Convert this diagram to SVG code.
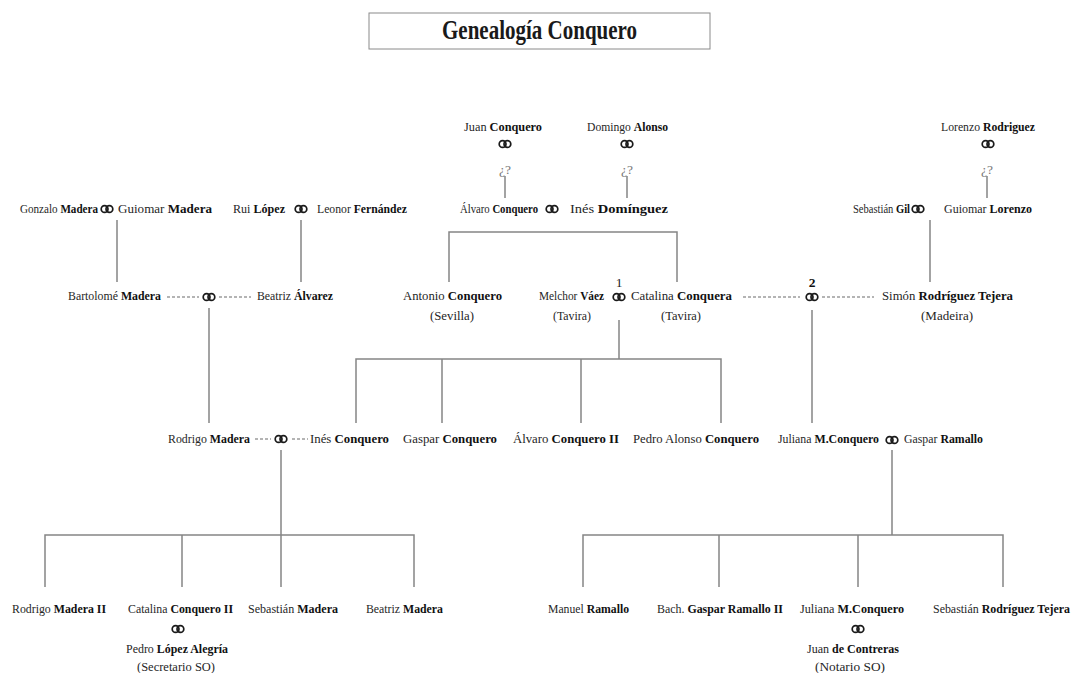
<svg xmlns="http://www.w3.org/2000/svg" xmlns:xlink="http://www.w3.org/1999/xlink" width="1074" height="673" viewBox="0 0 1074 673">
<style>
  text { font-family: "Liberation Serif", "Times New Roman", serif; font-size: 13.5px; fill: #262626; }
  .b { font-weight: bold; fill: #111; }
  .q { fill: #777; }
  .title { font-size: 28px; font-weight: bold; fill: #1a1a1a; }
  .ln { stroke: #858585; stroke-width: 1.5; fill: none; }
  .dot { stroke: #6a6a6a; stroke-width: 1.2; stroke-dasharray: 3 2; fill: none; }
  .ring { stroke: #1a1a1a; stroke-width: 1.7; fill: none; }
</style>
<defs>
  <symbol id="rings" overflow="visible">
    <circle class="ring" cx="-2.4" cy="0" r="3.4"/>
    <circle class="ring" cx="2.4" cy="0" r="3.4"/>
  </symbol>
</defs>
<rect width="1074" height="673" fill="#fff"/>

<g id="title">
  <rect x="369" y="13" width="341" height="36" fill="#fff" stroke="#8a8a8a" stroke-width="1"/>
  <text class="title" x="442" y="39" textLength="195" lengthAdjust="spacingAndGlyphs">Genealogía Conquero</text>
</g>

<g id="connectors">
  <line class="ln" x1="505" y1="176" x2="505" y2="198"/>
  <line class="ln" x1="627" y1="176" x2="627" y2="198"/>
  <line class="ln" x1="987" y1="176" x2="987" y2="198"/>
  <line class="ln" x1="117" y1="220" x2="117" y2="282"/>
  <line class="ln" x1="301" y1="220" x2="301" y2="282"/>
  <line class="ln" x1="930" y1="220" x2="930" y2="282"/>
  <polyline class="ln" points="449,282 449,232 677,232 677,282"/>
  <line class="dot" x1="167" y1="297" x2="199" y2="297"/>
  <line class="dot" x1="219" y1="297" x2="251" y2="297"/>
  <line class="dot" x1="743" y1="297" x2="800" y2="297"/>
  <line class="dot" x1="822" y1="297" x2="874" y2="297"/>
  <line class="ln" x1="209" y1="308" x2="209" y2="423"/>
  <line class="ln" x1="812" y1="310" x2="812" y2="423"/>
  <line class="ln" x1="619" y1="320" x2="619" y2="359"/>
  <polyline class="ln" points="356,423 356,359 721,359 721,423"/>
  <line class="ln" x1="442" y1="359" x2="442" y2="423"/>
  <line class="ln" x1="581" y1="359" x2="581" y2="423"/>
  <line class="dot" x1="255" y1="439" x2="271" y2="439"/>
  <line class="dot" x1="292" y1="439" x2="308" y2="439"/>
  <line class="ln" x1="281" y1="450" x2="281" y2="535"/>
  <line class="ln" x1="892" y1="450" x2="892" y2="535"/>
  <polyline class="ln" points="45,587 45,535 414,535 414,587"/>
  <line class="ln" x1="182" y1="535" x2="182" y2="587"/>
  <line class="ln" x1="281" y1="535" x2="281" y2="587"/>
  <polyline class="ln" points="583,587 583,535 1003,535 1003,587"/>
  <line class="ln" x1="719" y1="535" x2="719" y2="587"/>
  <line class="ln" x1="858" y1="535" x2="858" y2="587"/>
</g>

<g id="juan-conquero">
  <text x="464" y="131" textLength="78" lengthAdjust="spacingAndGlyphs">Juan <tspan class="b">Conquero</tspan></text>
  <use href="#rings" x="505" y="144"/>
  <text class="q" x="505" y="174" text-anchor="middle">¿?</text>
</g>
<g id="domingo-alonso">
  <text x="587" y="131" textLength="81" lengthAdjust="spacingAndGlyphs">Domingo <tspan class="b">Alonso</tspan></text>
  <use href="#rings" x="627" y="144"/>
  <text class="q" x="627" y="174" text-anchor="middle">¿?</text>
</g>
<g id="lorenzo-rodriguez">
  <text x="941" y="131" textLength="94" lengthAdjust="spacingAndGlyphs">Lorenzo <tspan class="b">Rodriguez</tspan></text>
  <use href="#rings" x="988" y="144"/>
  <text class="q" x="987" y="174" text-anchor="middle">¿?</text>
</g>

<g id="gonzalo-guiomar-madera">
  <text x="20" y="213" textLength="78" lengthAdjust="spacingAndGlyphs">Gonzalo <tspan class="b">Madera</tspan></text>
  <use href="#rings" x="107" y="209"/>
  <text x="118" y="213" textLength="94" lengthAdjust="spacingAndGlyphs">Guiomar <tspan class="b">Madera</tspan></text>
</g>
<g id="rui-lopez-leonor-fernandez">
  <text x="233" y="213" textLength="52" lengthAdjust="spacingAndGlyphs">Rui <tspan class="b">López</tspan></text>
  <use href="#rings" x="301" y="209"/>
  <text x="317" y="213" textLength="90" lengthAdjust="spacingAndGlyphs">Leonor <tspan class="b">Fernández</tspan></text>
</g>
<g id="alvaro-ines">
  <text x="460" y="213" textLength="78" lengthAdjust="spacingAndGlyphs">Álvaro <tspan class="b">Conquero</tspan></text>
  <use href="#rings" x="552" y="209"/>
  <text x="570" y="213" textLength="98" lengthAdjust="spacingAndGlyphs">Inés <tspan class="b">Domínguez</tspan></text>
</g>
<g id="sebastian-gil-guiomar-lorenzo">
  <text x="853" y="213" textLength="57" lengthAdjust="spacingAndGlyphs">Sebastián <tspan class="b">Gil</tspan></text>
  <use href="#rings" x="918" y="209"/>
  <text x="944" y="213" textLength="88" lengthAdjust="spacingAndGlyphs">Guiomar <tspan class="b">Lorenzo</tspan></text>
</g>

<g id="bartolome-beatriz">
  <text x="68" y="300" textLength="93" lengthAdjust="spacingAndGlyphs">Bartolomé <tspan class="b">Madera</tspan></text>
  <use href="#rings" x="209" y="297"/>
  <text x="257" y="300" textLength="76" lengthAdjust="spacingAndGlyphs">Beatriz <tspan class="b">Álvarez</tspan></text>
</g>
<g id="antonio-conquero">
  <text x="403" y="300" textLength="99" lengthAdjust="spacingAndGlyphs">Antonio <tspan class="b">Conquero</tspan></text>
  <text x="452" y="320" text-anchor="middle" textLength="44" lengthAdjust="spacingAndGlyphs">(Sevilla)</text>
</g>
<g id="melchor-catalina">
  <text x="539" y="300" textLength="65" lengthAdjust="spacingAndGlyphs">Melchor <tspan class="b">Váez</tspan></text>
  <text x="572" y="320" text-anchor="middle" textLength="38" lengthAdjust="spacingAndGlyphs">(Tavira)</text>
  <text x="619" y="287" text-anchor="middle">1</text>
  <use href="#rings" x="619" y="297"/>
  <text x="631" y="300" textLength="101" lengthAdjust="spacingAndGlyphs">Catalina <tspan class="b">Conquera</tspan></text>
  <text x="681" y="320" text-anchor="middle" textLength="40" lengthAdjust="spacingAndGlyphs">(Tavira)</text>
</g>
<g id="catalina-simon">
  <text class="b" x="812" y="287" text-anchor="middle">2</text>
  <use href="#rings" x="812" y="297"/>
  <text x="882" y="300" textLength="131" lengthAdjust="spacingAndGlyphs">Simón <tspan class="b">Rodríguez Tejera</tspan></text>
  <text x="947" y="320" text-anchor="middle" textLength="52" lengthAdjust="spacingAndGlyphs">(Madeira)</text>
</g>

<g id="rodrigo-ines">
  <text x="168" y="443" textLength="82" lengthAdjust="spacingAndGlyphs">Rodrigo <tspan class="b">Madera</tspan></text>
  <use href="#rings" x="281" y="439"/>
  <text x="310" y="443" textLength="79" lengthAdjust="spacingAndGlyphs">Inés <tspan class="b">Conquero</tspan></text>
</g>
<g id="gaspar-conquero">
  <text x="403" y="443" textLength="94" lengthAdjust="spacingAndGlyphs">Gaspar <tspan class="b">Conquero</tspan></text>
</g>
<g id="alvaro-conquero-ii">
  <text x="513" y="443" textLength="106" lengthAdjust="spacingAndGlyphs">Álvaro <tspan class="b">Conquero II</tspan></text>
</g>
<g id="pedro-alonso-conquero">
  <text x="633" y="443" textLength="126" lengthAdjust="spacingAndGlyphs">Pedro Alonso <tspan class="b">Conquero</tspan></text>
</g>
<g id="juliana-gaspar">
  <text x="778" y="443" textLength="101" lengthAdjust="spacingAndGlyphs">Juliana <tspan class="b">M.Conquero</tspan></text>
  <use href="#rings" x="892" y="440"/>
  <text x="904" y="443" textLength="79" lengthAdjust="spacingAndGlyphs">Gaspar <tspan class="b">Ramallo</tspan></text>
</g>

<g id="rodrigo-madera-ii">
  <text x="12" y="613" textLength="94" lengthAdjust="spacingAndGlyphs">Rodrigo <tspan class="b">Madera II</tspan></text>
</g>
<g id="catalina-conquero-ii">
  <text x="128" y="613" textLength="105" lengthAdjust="spacingAndGlyphs">Catalina <tspan class="b">Conquero II</tspan></text>
  <use href="#rings" x="178" y="629"/>
  <text x="126" y="653" textLength="102" lengthAdjust="spacingAndGlyphs">Pedro <tspan class="b">López Alegría</tspan></text>
  <text x="176" y="671" text-anchor="middle" textLength="78" lengthAdjust="spacingAndGlyphs">(Secretario SO)</text>
</g>
<g id="sebastian-madera">
  <text x="248" y="613" textLength="90" lengthAdjust="spacingAndGlyphs">Sebastián <tspan class="b">Madera</tspan></text>
</g>
<g id="beatriz-madera">
  <text x="366" y="613" textLength="77" lengthAdjust="spacingAndGlyphs">Beatriz <tspan class="b">Madera</tspan></text>
</g>
<g id="manuel-ramallo">
  <text x="548" y="613" textLength="81" lengthAdjust="spacingAndGlyphs">Manuel <tspan class="b">Ramallo</tspan></text>
</g>
<g id="gaspar-ramallo-ii">
  <text x="657" y="613" textLength="126" lengthAdjust="spacingAndGlyphs">Bach. <tspan class="b">Gaspar Ramallo II</tspan></text>
</g>
<g id="juliana-mconquero">
  <text x="800" y="613" textLength="104" lengthAdjust="spacingAndGlyphs">Juliana <tspan class="b">M.Conquero</tspan></text>
  <use href="#rings" x="858" y="629"/>
  <text x="807" y="653" textLength="92" lengthAdjust="spacingAndGlyphs">Juan <tspan class="b">de Contreras</tspan></text>
  <text x="850" y="671" text-anchor="middle" textLength="70" lengthAdjust="spacingAndGlyphs">(Notario SO)</text>
</g>
<g id="sebastian-rodriguez-tejera">
  <text x="933" y="613" textLength="137" lengthAdjust="spacingAndGlyphs">Sebastián <tspan class="b">Rodríguez Tejera</tspan></text>
</g>
</svg>
